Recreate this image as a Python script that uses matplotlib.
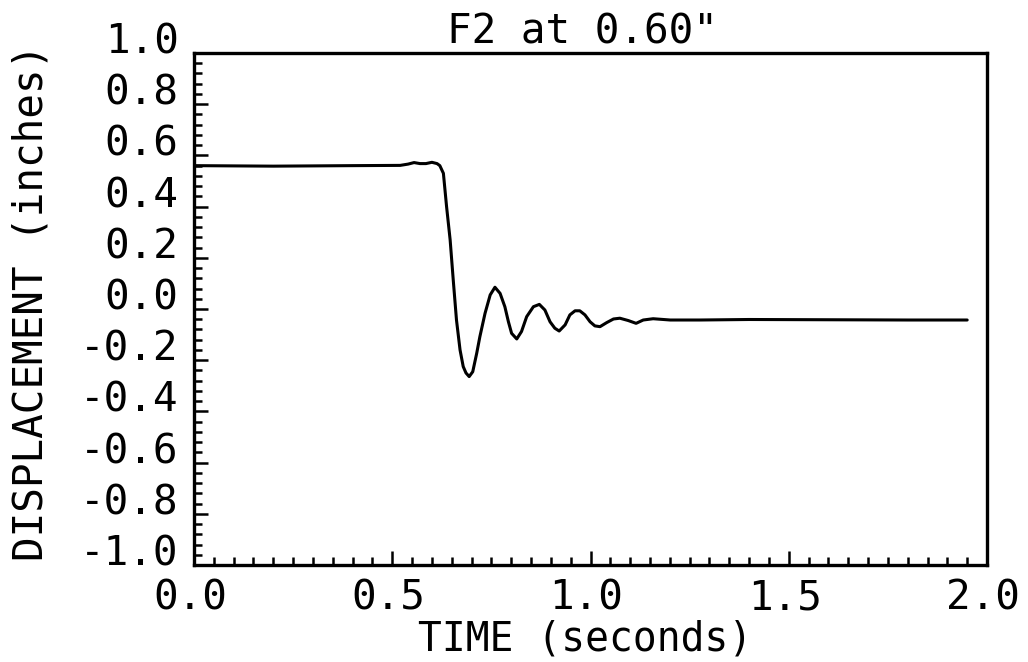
import numpy as np
import matplotlib
matplotlib.use("Agg")
import matplotlib.pyplot as plt
from matplotlib.ticker import FixedLocator, MultipleLocator, FixedFormatter
from matplotlib.transforms import ScaledTranslation

# ---- data ----
time_s = [0.000, 0.200, 0.400, 0.520, 0.540, 0.555, 0.570, 0.585, 0.600,
          0.613, 0.620, 0.629, 0.637, 0.646, 0.654, 0.662, 0.671, 0.679,
          0.686, 0.694, 0.703, 0.713, 0.721, 0.734, 0.747, 0.759, 0.772,
          0.784, 0.793, 0.801, 0.814, 0.826, 0.839, 0.856, 0.871, 0.885,
          0.898, 0.910, 0.921, 0.936, 0.948, 0.961, 0.973, 0.986, 0.999,
          1.011, 1.024, 1.041, 1.058, 1.074, 1.095, 1.115, 1.133, 1.158,
          1.201, 1.276, 1.400, 1.600, 1.800, 1.950]
displacement = [0.560, 0.558, 0.560, 0.561, 0.566, 0.572, 0.568, 0.568,
                0.573, 0.568, 0.560, 0.530, 0.400, 0.270, 0.110, -0.043,
                -0.160, -0.225, -0.250, -0.264, -0.245, -0.173, -0.108,
                -0.017, 0.055, 0.085, 0.061, 0.009, -0.050, -0.095, -0.117,
                -0.088, -0.030, 0.009, 0.018, -0.004, -0.050, -0.075,
                -0.086, -0.062, -0.023, -0.007, -0.007, -0.023, -0.050,
                -0.066, -0.069, -0.053, -0.039, -0.036, -0.045, -0.056,
                -0.043, -0.038, -0.043, -0.043, -0.041, -0.042, -0.043,
                -0.043]

x_major = [0.0, 0.5, 1.0, 1.5, 2.0]
x_labels = ["0.0", "0.5", "1.0", "1.5", "2.0"]
y_major = [1.0, 0.8, 0.6, 0.4, 0.2, 0.0, -0.2, -0.4, -0.6, -0.8, -1.0]
y_labels = ["1.0", "0.8", "0.6", "0.4", "0.2", "0.0", "-0.2", "-0.4",
            "-0.6", "-0.8", "-1.0"]
title = 'F2 at 0.60"'
xlabel = "TIME (seconds)"
ylabel = "DISPLACEMENT (inches)"

FONT = "DejaVu Sans Mono"
FS = 29.5

W, H = 1028, 662
fig = plt.figure(figsize=(W / 100, H / 100), dpi=100)
ax = fig.add_axes([194 / W, 1 - 565 / H, (987 - 194) / W, (565 - 53) / H])

ax.plot(time_s, displacement, color="black", lw=2.2,
        solid_joinstyle="round", solid_capstyle="round")

ax.set_xlim(0, 2)
ax.set_ylim(-1, 1)

for s in ax.spines.values():
    s.set_linewidth(2.4)
    s.set_color("black")

ax.xaxis.set_major_locator(FixedLocator(x_major))
ax.xaxis.set_major_formatter(FixedFormatter(x_labels))
ax.xaxis.set_minor_locator(MultipleLocator(0.05))
ax.yaxis.set_major_locator(FixedLocator(y_major))
ax.yaxis.set_major_formatter(FixedFormatter(y_labels))
ax.yaxis.set_minor_locator(MultipleLocator(0.04))

ax.tick_params(axis="both", which="both", direction="in", color="black",
               top=False, right=False)
ax.tick_params(axis="both", which="major", length=10, width=1.8)
ax.tick_params(axis="both", which="minor", length=5.5, width=1.8)
ax.tick_params(axis="x", which="major", pad=10)
ax.tick_params(axis="y", which="major", pad=11)

for lab in ax.get_xticklabels() + ax.get_yticklabels():
    lab.set_fontfamily(FONT)
    lab.set_fontsize(FS)

# y tick labels sit slightly above their ticks in the reference
shift = ScaledTranslation(0, 15 / 100, fig.dpi_scale_trans)
for lab in ax.get_yticklabels():
    lab.set_transform(lab.get_transform() + shift)
shiftx = ScaledTranslation(-4 / 100, 0, fig.dpi_scale_trans)
for lab in ax.get_xticklabels():
    lab.set_transform(lab.get_transform() + shiftx)

fig.text(582 / W, 1 - 43 / H, title, ha="center", va="baseline",
         fontfamily=FONT, fontsize=FS)
fig.text(585 / W, 1 - 651 / H, xlabel, ha="center", va="baseline",
         fontfamily=FONT, fontsize=FS - 1)
fig.text(32 / W, 1 - 302 / H, ylabel, ha="center", va="center",
         rotation=90, fontfamily=FONT, fontsize=FS)

fig.savefig("out.png", dpi=100, facecolor="white")
